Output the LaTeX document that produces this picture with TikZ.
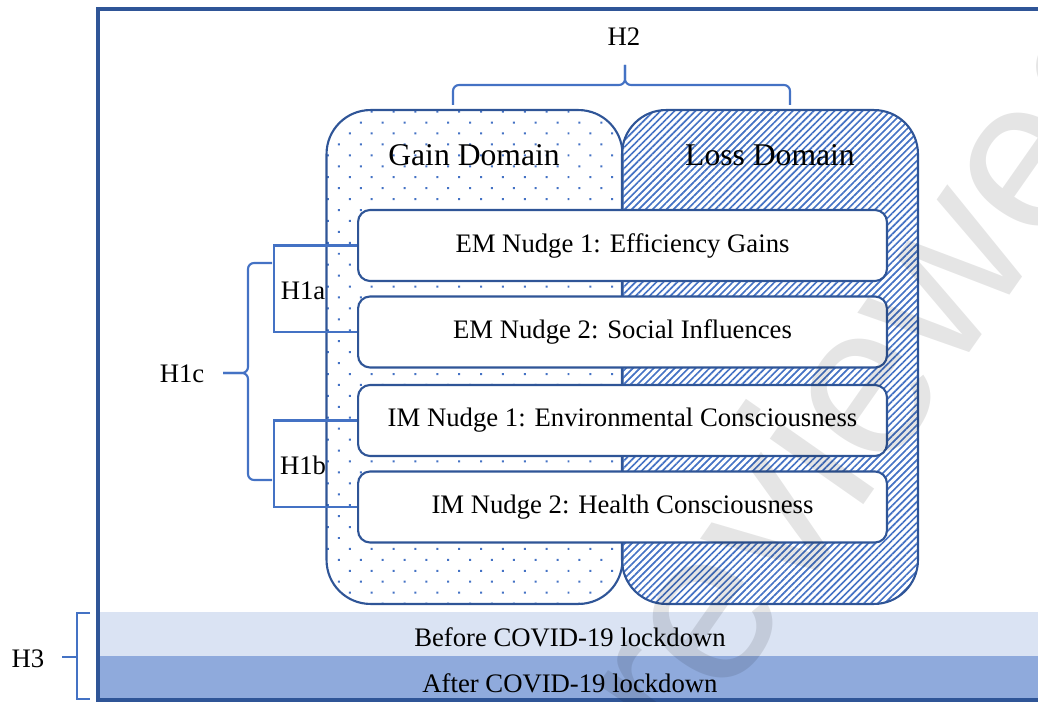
\documentclass[tikz,border=0pt]{standalone}
\usepackage{fontspec}
\setmainfont{Liberation Serif}
\newfontfamily\wmfont{Liberation Sans}
\usetikzlibrary{patterns.meta}
\definecolor{frameblue}{RGB}{47,85,151}
\definecolor{accentblue}{RGB}{68,114,196}
\definecolor{lightband}{RGB}{218,227,243}
\definecolor{darkband}{RGB}{143,170,220}
\begin{document}
\begin{tikzpicture}[x=0.02cm,y=-0.02cm,
  txt/.style={font=\fontsize{15.2}{18}\selectfont, inner sep=0pt},
  domtxt/.style={font=\fontsize{18}{21}\selectfont, inner sep=0pt},
  nudge/.style={draw=frameblue, line width=1.2pt, fill=white, rounded corners=0.24cm,
    minimum width=10.58cm, minimum height=1.42cm, inner sep=0pt,
    font=\fontsize{15.2}{18}\selectfont},
  domainbox/.style={draw=frameblue, line width=1.2pt, rounded corners=0.88cm,
    minimum width=5.92cm, minimum height=9.88cm, inner sep=0pt},
  band/.style={draw=none, inner sep=0pt, anchor=north west, minimum width=20cm},
  brk/.style={draw=accentblue, line width=1.2pt},
  brace/.style={brk, rounded corners=0.12cm},
  frameline/.style={draw=frameblue, line width=2.27pt},
]
\useasboundingbox (0,0) rectangle (1038,702);

% time bands
\node[band, fill=lightband, minimum height=0.88cm] (before) at (98,612) {};
\node[band, fill=darkband, minimum height=0.98cm] (after) at (98,656) {};
\node[txt] (beforelbl) at (570,637) {Before COVID-19 lockdown};
\node[txt] (afterlbl) at (570,683) {After COVID-19 lockdown};

% frame
\draw[frameline] (98,9) rectangle (1100,700);

% domains
\node[domainbox, pattern={Dots[distance=8.8pt, angle=45, radius=0.8pt]}, pattern color=accentblue] (gain) at (474.5,357) {};
\node[domainbox, pattern={Lines[distance=2.8pt, angle=45, line width=0.95pt]}, pattern color=accentblue] (loss) at (770,357) {};
\node[domtxt] (gainlbl) at (474,155) {Gain Domain};
\node[domtxt] (losslbl) at (770,155) {Loss Domain};

% nudges
\node[nudge] (em1) at (622.5,245.5) {EM Nudge 1: Efficiency Gains};
\node[nudge] (em2) at (622.5,332) {EM Nudge 2: Social Influences};
\node[nudge] (im1) at (622.5,420.5) {IM Nudge 1: Environmental Consciousness};
\node[nudge] (im2) at (622.5,507) {IM Nudge 2: Health Consciousness};

% H1a / H1b brackets
\draw[brk] (em1.west) -- ++(-83,0) |- (em2.west);
\draw[brk] (im1.west) -- ++(-83,0) |- (im2.west);
\node[txt] (h1a) at (303,291) {H1a};
\node[txt] (h1b) at (303,465) {H1b};

% H1c brace
\coordinate (h1ctop) at (272,263);
\coordinate (h1cbot) at (272,480);
\coordinate (h1ctip) at (223,373);
\draw[brace] (h1ctop) -- (248,263) -- (248,373) -- (h1ctip);
\draw[brace] (h1cbot) -- (248,480) -- (248,373) -- (h1ctip);
\node[txt] (h1c) at (182,374) {H1c};

% H2 brace
\coordinate (h2l) at (453,105);
\coordinate (h2r) at (790,105);
\coordinate (h2tip) at (625,65);
\draw[brace] (h2l) -- (453,85) -- (625,85) -- (h2tip);
\draw[brace] (h2r) -- (790,85) -- (625,85) -- (h2tip);
\node[txt] (h2) at (624,37) {H2};

% H3 bracket
\coordinate (h3top) at (90,613);
\coordinate (h3bot) at (90,699);
\draw[brk] (h3top) -- (77,613) -- (77,699) -- (h3bot);
\draw[brk] (62,657) -- (77,657);
\node[txt] (h3) at (28,659) {H3};

% watermark
\begin{scope}
\clip (0,0) rectangle (1038,702);
\node[rotate=55, text=black, text opacity=0.1, inner sep=0pt,
  font=\wmfont\fontsize{123}{123}\selectfont] (wm) at (868,364) {reviewed};
\end{scope}
\end{tikzpicture}
\end{document}
